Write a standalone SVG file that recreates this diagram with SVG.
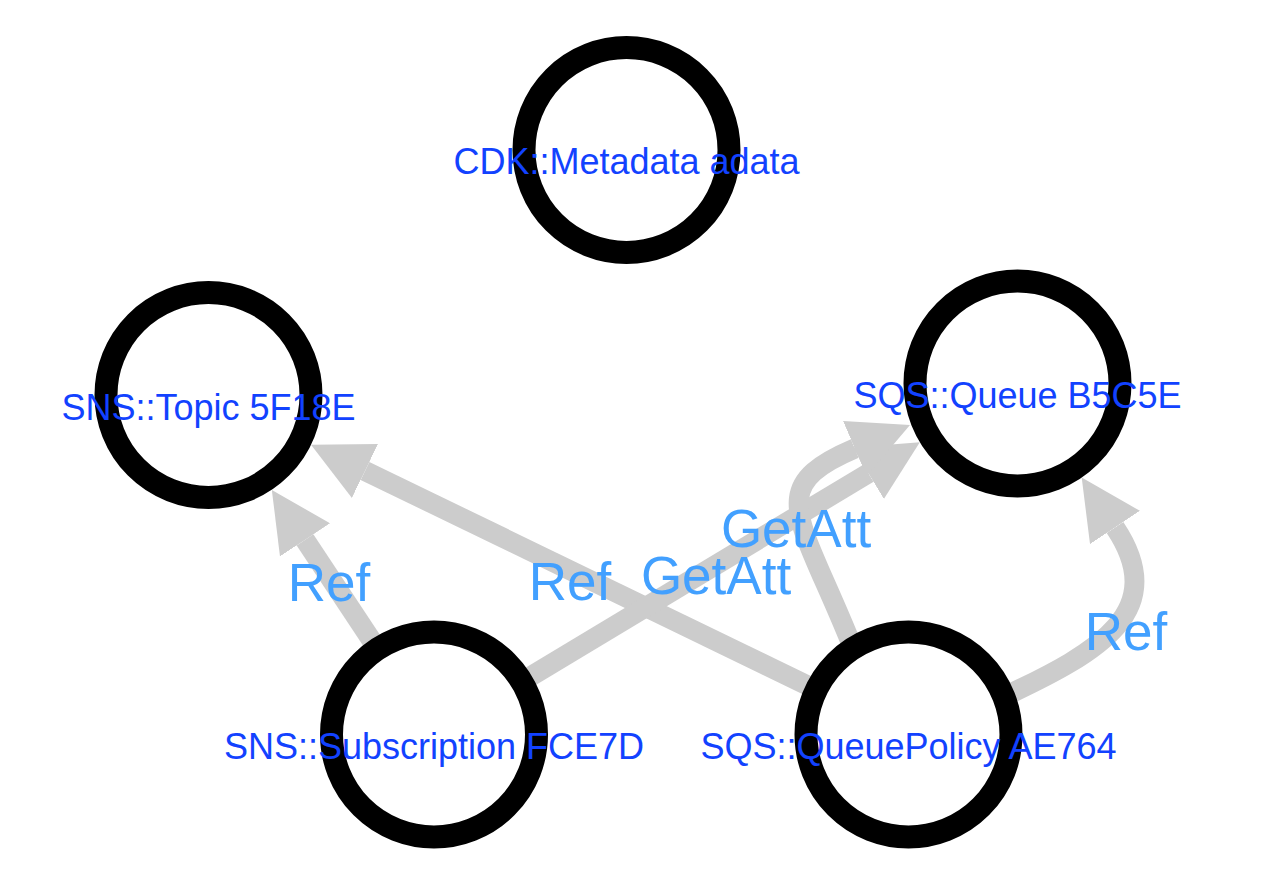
<svg xmlns="http://www.w3.org/2000/svg" width="1276" height="888" viewBox="0 0 1276 888">
<style>
.edge{fill:none;stroke:#cccccc;stroke-width:20;marker-end:url(#arrow)}
.node circle{fill:#ffffff;stroke:#000000;stroke-width:23}
.node text{font-family:"Liberation Sans",Arial,Helvetica,sans-serif;font-size:36px;fill:#1242ff;text-anchor:middle}
.elabel{font-family:"Liberation Sans",Arial,Helvetica,sans-serif;font-size:53px;fill:#42a0ff;text-anchor:middle}
</style>
<defs>
<marker id="arrow" markerUnits="userSpaceOnUse" markerWidth="60" markerHeight="60" viewBox="0 -30 60 60" refX="0" refY="0" orient="auto">
<path d="M0,-30 L60,0 L0,30 Z" fill="#cccccc"/>
</marker>
</defs>
<g id="connectors">
<path class="edge" d="M434,734.5 L305,539.9"/>
<path class="edge" d="M908.5,734.5 L365,470.9"/>
<path class="edge" d="M434,734.5 L868.4,473.2"/>
<path class="edge" d="M852.5,647 C799.8,515.4 762.8,487.7 854.8,448.5"/>
<path class="edge" d="M1005.3,696 C1099.5,651.8 1170.5,610.7 1115,527.5"/>
</g>
<g id="edge-labels">
<text class="elabel" x="329" y="601">Ref</text>
<text class="elabel" x="570" y="600">Ref</text>
<text class="elabel" x="716" y="594">GetAtt</text>
<text class="elabel" x="796" y="547">GetAtt</text>
<text class="elabel" x="1126" y="650">Ref</text>
</g>
<g id="node-cdk-metadata" class="node">
<circle cx="626.5" cy="150" r="102.5"/>
<text x="626.5" y="174">CDK::Metadata adata</text>
</g>
<g id="node-sns-topic" class="node">
<circle cx="208.5" cy="395" r="102.5"/>
<text x="208.5" y="419.5">SNS::Topic 5F18E</text>
</g>
<g id="node-sqs-queue" class="node">
<circle cx="1017.5" cy="383.5" r="102.5"/>
<text x="1017.5" y="407.5">SQS::Queue B5C5E</text>
</g>
<g id="node-sns-subscription" class="node">
<circle cx="434" cy="734.5" r="102.5"/>
<text x="434" y="759">SNS::Subscription FCE7D</text>
</g>
<g id="node-sqs-queuepolicy" class="node">
<circle cx="908.5" cy="734.5" r="102.5"/>
<text x="908.5" y="759">SQS::QueuePolicy AE764</text>
</g>
</svg>
